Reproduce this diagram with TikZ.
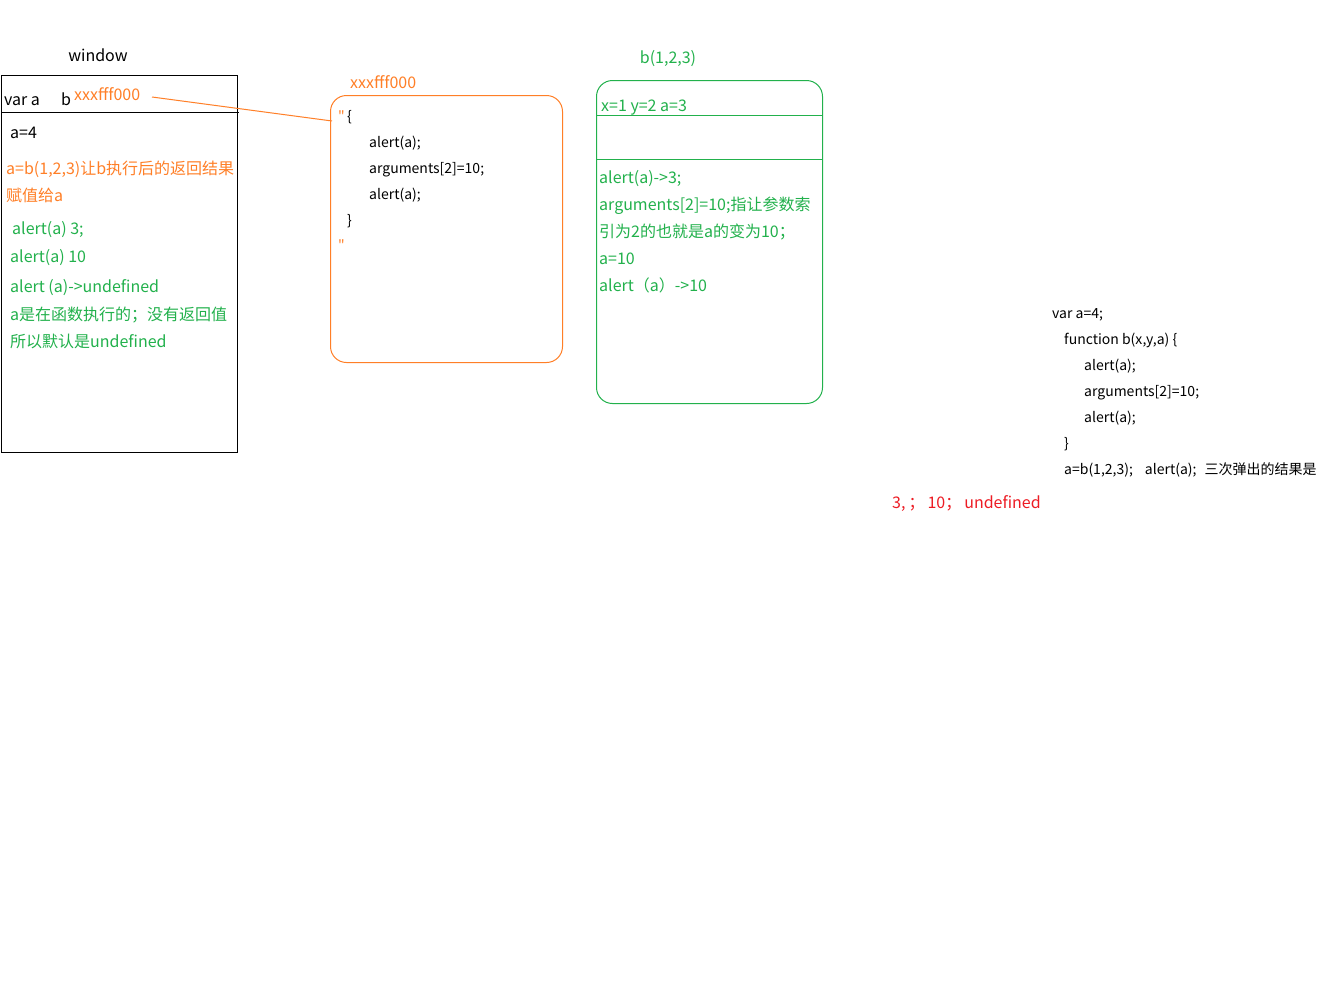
\documentclass[tikz,border=0pt]{standalone}
\usepackage{fontspec}
\setmainfont{Noto Sans CJK SC}
\newfontfamily\qfont{Noto Sans CJK SC}
\definecolor{porange}{HTML}{FF7F27}
\definecolor{pgreen}{HTML}{22B14C}
\definecolor{pred}{HTML}{ED1C24}
\definecolor{ink}{HTML}{000000}
\begin{document}
\begin{tikzpicture}[x=1pt,y=-1pt,
  txt/.style={anchor=base west,inner sep=0pt,font=\fontsize{16}{18}\selectfont},
  code/.style={anchor=base west,inner sep=0pt,font=\fontsize{14}{16}\selectfont,text=ink},
  og/.style={txt,text=porange},
  gr/.style={txt,text=pgreen},
  frame/.style={draw=black,line width=1pt}]
\useasboundingbox[fill=white] (0,0) rectangle (1344,1007);
% window
\node[txt,anchor=base] (wtitle) at (98,61) {window};
\draw[frame] (1.5,75.5) rectangle (237.5,452.5);
\draw[line width=1pt] (1.5,112.5) -- (239,112.5);
\node[txt] (vara) at (4,105) {var a};
\node[txt] (varb) at (61,105) {b};
\node[og] (addr1) at (74,100) {xxxfff000};
\node[txt] (a4) at (10,138) {a=4};
\node[og] (o1) at (6,174) {a=b(1,2,3)让b执行后的返回结果};
\node[og] (o2) at (6,201) {赋值给a};
\node[gr] (g1) at (12,234) {alert(a) 3;};
\node[gr] (g2) at (10,262) {alert(a) 10};
\node[gr] (g3) at (10,292) {alert (a)->undefined};
\node[gr] (g4) at (10,320) {a是在函数执行的；没有返回值};
\node[gr] (g5) at (10,347) {所以默认是undefined};
% orange box
\node[og] (addr2) at (350,88) {xxxfff000};
\draw[porange,line width=1pt,rounded corners=16pt] (330.5,95.5) rectangle (562.5,362.5);
\coordinate (linestart) at (152,97);
\coordinate (lineend) at (332,121);
\draw[porange,line width=1pt] (linestart) -- (lineend);
\node[code,text=porange] (q1) at (338,121) {\qfont "};
\node[code] (br1) at (347,121) {\{};
\node[code] (c1) at (369,147) {alert(a);};
\node[code] (c2) at (369,173) {arguments[2]=10;};
\node[code] (c3) at (369,199) {alert(a);};
\node[code] (br2) at (347,225) {\}};
\node[code,text=porange] (q2) at (338,250) {\qfont "};
% green box
\node[gr,anchor=base] (btitle) at (668,63) {b(1,2,3)};
\draw[pgreen,line width=1pt,rounded corners=16pt] (596.5,80.5) rectangle (822.5,403.5);
\node[gr] (xyz) at (601,111) {x=1 y=2 a=3};
\coordinate (gl1a) at (596.5,115.5);
\coordinate (gl1b) at (822.5,115.5);
\coordinate (gl2a) at (596.5,159.5);
\coordinate (gl2b) at (822.5,159.5);
\draw[pgreen,line width=1pt] (gl1a) -- (gl1b);
\draw[pgreen,line width=1pt] (gl2a) -- (gl2b);
\node[gr] (h1) at (599,183) {alert(a)->3;};
\node[gr] (h2) at (599,210) {arguments[2]=10;指让参数索};
\node[gr] (h3) at (599,237) {引为2的也就是a的变为10；};
\node[gr] (h4) at (599,264) {a=10};
\node[gr] (h5) at (599,291) {alert（a）->10};
% right code
\node[code] (r1) at (1052,318) {var a=4;};
\node[code] (r2) at (1064,344) {function b(x,y,a) \{};
\node[code] (r3) at (1084,370) {alert(a);};
\node[code] (r4) at (1084,396) {arguments[2]=10;};
\node[code] (r5) at (1084,422) {alert(a);};
\node[code] (r6) at (1064,448) {\}};
\node[code] (r7) at (1064,474) {a=b(1,2,3);\hspace{12pt}alert(a);\hspace{8pt}三次弹出的结果是};
\node[txt,text=pred] (ans) at (892,508) {3,\hspace{3pt}；\hspace{3pt}10；\hspace{3pt}undefined};
\end{tikzpicture}
\end{document}
